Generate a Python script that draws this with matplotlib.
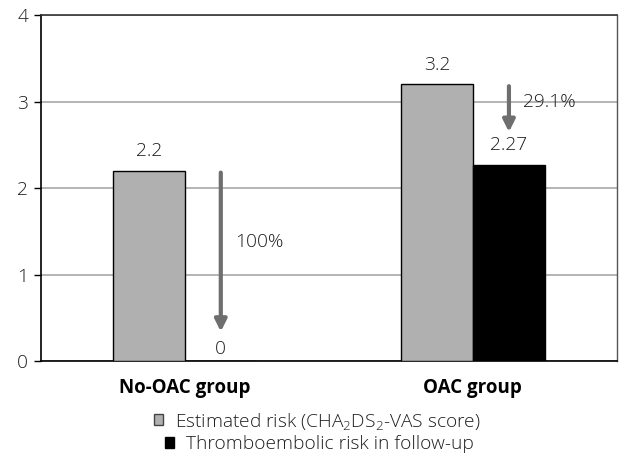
import matplotlib
matplotlib.use("Agg")
import matplotlib.pyplot as plt
from matplotlib import font_manager
import numpy as np

plt.rcParams['font.family'] = ['Open Sans', 'DejaVu Sans']
plt.rcParams['mathtext.fontset'] = 'custom'
plt.rcParams['mathtext.rm'] = 'Open Sans:light'
plt.rcParams['mathtext.it'] = 'Open Sans:light'

# use a light weight if the installed family offers one
_weights = {f.weight for f in font_manager.fontManager.ttflist if f.name == 'Open Sans'}
LIGHT = 'light' if any(w in (300, 'light') for w in _weights) else 'normal'

categories = ["No-OAC group", "OAC group"]
estimated = [2.2, 3.2]
followup = [0, 2.27]
series_names = ["Estimated risk (CHA$_\\mathregular{2}$DS$_\\mathregular{2}$-VAS score)",
                "Thromboembolic risk in follow-up"]
yticks = [0, 1, 2, 3, 4]

TXT = "#1e1e1e"
GRAY = "#b0b0b0"
ARROW = "#6e6e6e"
FS = 13.8

fig = plt.figure(figsize=(6.19, 4.59), dpi=100)
ax = fig.add_axes([40.7 / 619, 98 / 459, (617 - 40.7) / 619, (361 - 15.3) / 459])

x = np.arange(len(categories))
w = 0.25
b1 = ax.bar(x - w / 2, estimated, w, color=GRAY, edgecolor="black", linewidth=1.0, zorder=3)
b2 = ax.bar(x + w / 2, followup, w, color="black", edgecolor="black", linewidth=1.0, zorder=3)

ax.set_xlim(-0.5, 1.5)
ax.set_ylim(0, 4)
ax.set_yticks(yticks)
ax.set_yticklabels([str(t) for t in yticks], fontsize=FS, color=TXT, fontweight=LIGHT)
ax.tick_params(axis='y', length=5, width=1, direction='out', pad=4, color='black', labelcolor=TXT)
ax.set_xticks(x)
ax.set_xticklabels(categories, fontsize=13.5, fontweight='bold', color='black')
ax.tick_params(axis='x', length=0, pad=12)
ax.yaxis.grid(True, color="#a8a8a8", linewidth=1.2, zorder=0)
ax.set_axisbelow(True)
for s in ['left', 'bottom']:
    ax.spines[s].set_color('black')
    ax.spines[s].set_linewidth(1.2)
ax.spines['top'].set_color('#333333')
ax.spines['top'].set_linewidth(1.2)
ax.spines['right'].set_color('#555555')
ax.spines['right'].set_linewidth(1.0)

# value labels
for xi, v in zip(x - w / 2, estimated):
    ax.annotate(f"{v:g}", (xi, v), xytext=(0, 14), textcoords='offset points',
                ha='center', va='center', fontsize=FS, color=TXT, fontweight=LIGHT)
for xi, v in zip(x + w / 2, followup):
    off = 9 if v == 0 else 14
    ax.annotate(f"{v:g}", (xi, v), xytext=(0, off), textcoords='offset points',
                ha='center', va='center', fontsize=FS, color=TXT, fontweight=LIGHT)

# reduction arrows
for xi, a, b in zip(x + w / 2, estimated, followup):
    pct = (1 - b / a) * 100
    lbl = f"{pct:.0f}%" if abs(pct - round(pct)) < 1e-9 else f"{pct:.1f}%"
    if b == 0:
        y0, y1, ty = a - 0.02, 0.34, 1.38
    else:
        y0, y1, ty = a - 0.02, 2.65, 3.0
    ax.annotate("", xy=(xi, y1), xytext=(xi, y0),
                arrowprops=dict(arrowstyle="-|>,head_length=0.7,head_width=0.35",
                                color=ARROW, lw=3, shrinkA=0, shrinkB=0), zorder=4)
    ax.annotate(lbl, (xi, ty), xytext=(10, 0), textcoords='offset points',
                ha='left', va='center', fontsize=FS, color=TXT, fontweight=LIGHT)

# legend (each entry centered on its own line)
leg_kw = dict(frameon=False, prop={'size': FS, 'weight': LIGHT}, handlelength=0.5,
              handleheight=0.5, handletextpad=0.6, borderpad=0, labelcolor=TXT)
l1 = fig.legend([b1], [series_names[0]], loc='center',
                bbox_to_anchor=(317 / 619, 1 - 421 / 459), **leg_kw)
l2 = fig.legend([b2], [series_names[1]], loc='center',
                bbox_to_anchor=(319 / 619, 1 - 444 / 459), **leg_kw)
for h in l1.legend_handles:
    h.set_edgecolor('#444444')

fig.savefig("out.png", dpi=100)
